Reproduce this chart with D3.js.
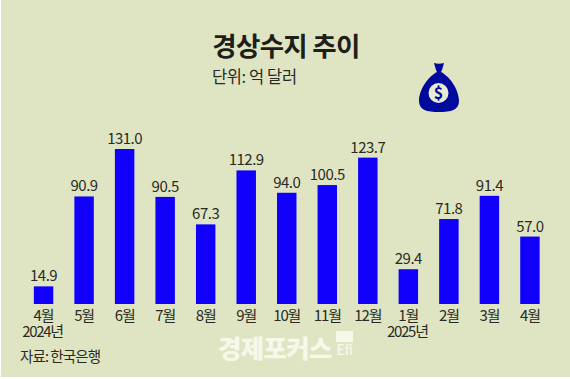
<!DOCTYPE html>
<html><head><meta charset="utf-8">
<script src="https://cdnjs.cloudflare.com/ajax/libs/d3/7.8.5/d3.min.js"></script>
<style>html,body{margin:0;padding:0;background:#fff}svg{display:block}text{font-family:"Noto Sans CJK KR","Noto Sans",sans-serif}</style>
</head><body><svg id="c" width="570" height="379"></svg>
<script>
const categories=["4월","5월","6월","7월","8월","9월","10월","11월","12월","1월","2월","3월","4월"];
const keys=categories.map((d,i)=>i+":"+d);
const values=[14.9,90.9,131.0,90.5,67.3,112.9,94.0,100.5,123.7,29.4,71.8,91.4,57.0];
const labels=["14.9","90.9","131.0","90.5","67.3","112.9","94.0","100.5","123.7","29.4","71.8","91.4","57.0"];
const yearLabels=[{i:0,t:"2024년"},{i:9,t:"2025년"}];
const title="경상수지 추이", unit="단위: 억 달러", source="자료: 한국은행", brand="경제포커스", brandMark="Efi";

const svg=d3.select("#c");
svg.append("rect").attr("x",1).attr("y",0).attr("width",569).attr("height",377).attr("fill","#dfe5c3");
const x=d3.scaleBand().domain(keys).range([23.3,550.2]).paddingInner(0.52).paddingOuter(0.26);
const y=d3.scaleLinear().domain([0,131]).range([304,149]);
const g=svg.append("g");
g.selectAll("rect").data(values).join("rect")
 .attr("x",(d,i)=>x(keys[i])).attr("width",x.bandwidth())
 .attr("y",d=>y(d)).attr("height",d=>y(0)-y(d)).attr("fill","#1000fa");
g.selectAll("text.v").data(values).join("text").attr("class","v")
 .attr("x",(d,i)=>x(keys[i])+x.bandwidth()/2).attr("y",d=>y(d)-5)
 .attr("text-anchor","middle").attr("font-size",15).attr("letter-spacing",-0.5).attr("fill","#2a2a24").text((d,i)=>labels[i]);
const ax=d3.axisBottom(x).tickSize(0).tickPadding(0).tickFormat(k=>k.split(":")[1]);
const axg=svg.append("g").attr("transform","translate(0,304)").call(ax);
axg.select(".domain").remove();
axg.selectAll("text").attr("y",17).attr("dy",0).attr("font-size",15).attr("letter-spacing",-1.1).attr("fill","#2a2a24").style("font-family",'"Noto Sans CJK KR"');
svg.selectAll("text.yr").data(yearLabels).join("text").attr("class","yr")
 .attr("x",d=>x(keys[d.i])+x.bandwidth()/2-1).attr("y",337).attr("text-anchor","middle")
 .attr("font-size",15).attr("letter-spacing",-1.3).attr("fill","#2a2a24").text(d=>d.t);
svg.append("text").attr("x",286).attr("y",56).attr("text-anchor","middle").attr("font-size",26.5).attr("font-weight",700).attr("letter-spacing",-0.7).attr("fill","#1e1e1a").text(title);
svg.append("text").attr("x",212).attr("y",83).attr("font-size",16.5).attr("letter-spacing",-0.4).attr("fill","#2a2a24").text(unit);
svg.append("text").attr("x",20).attr("y",362).attr("font-size",14.5).attr("letter-spacing",-0.9).attr("fill","#2a2a24").text(source);
svg.append("text").attr("x",218).attr("y",358).attr("font-size",25.5).attr("font-weight",900).attr("letter-spacing",-0.7).attr("fill","#f6f8ea").text(brand);
const m=svg.append("g").attr("transform","translate(336,331)");
m.append("rect").attr("width",17).attr("height",11).attr("fill","#f6f8ea");
m.append("text").attr("x",8.5).attr("y",24).attr("text-anchor","middle").attr("font-size",14).attr("font-weight",500).attr("letter-spacing",-0.5).attr("fill","#f6f8ea").text(brandMark);
const b=svg.append("g").attr("transform","translate(439,92)");
b.append("path").attr("d","M-5,-29 C-2,-28 2,-28 5,-29 L3,-22 L2,-20 C10,-16 20,-3 20,9 C20,18 12,20 0,20 C-12,20 -20,18 -20,9 C-20,-3 -10,-16 -2,-20 L-3,-22 Z").attr("fill","#000a9c");
b.append("circle").attr("cx",-0.5).attr("cy",1).attr("r",10).attr("fill","#e8ecd2");
b.append("text").attr("x",-0.5).attr("y",7).attr("text-anchor","middle").attr("font-size",16).attr("font-weight",700).attr("fill","#000a9c").text("$");
</script></body></html>
